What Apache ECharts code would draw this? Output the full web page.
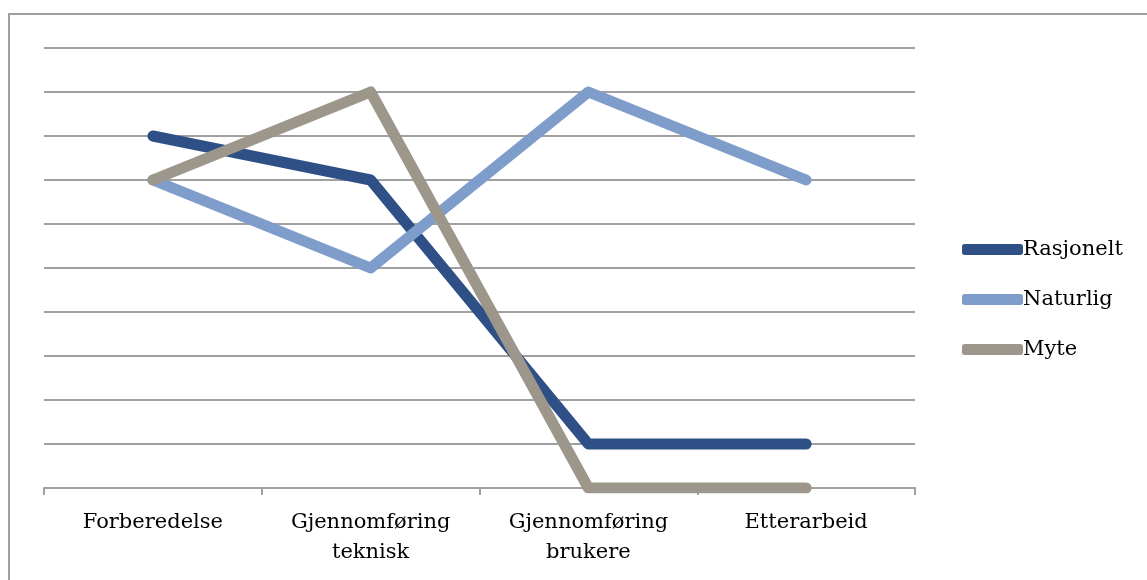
<!DOCTYPE html>
<html><head><meta charset="utf-8">
<script src="https://cdn.jsdelivr.net/npm/echarts@6/dist/echarts.min.js"></script>
<style>html,body{margin:0;padding:0;background:#fff}#c{width:1147px;height:580px}</style>
</head><body><div id="c"></div>
<script>
const categories = ['Forberedelse', 'Gjennomføring\nteknisk', 'Gjennomføring\nbrukere', 'Etterarbeid'];
const rasjonelt = [8, 7, 1, 1];
const naturlig = [7, 5, 9, 7];
const myte = [7, 9, 0, 0];
const seriesNames = ['Rasjonelt', 'Naturlig', 'Myte'];
const colors = ['#2f5086', '#7f9dca', '#9d968b'];
const font = 'DejaVu Serif';

const chart = echarts.init(document.getElementById('c'), null, {renderer: 'canvas'});
const mk = (name, data, color) => ({
  name, type: 'line', data, symbol: 'none', smooth: false,
  lineStyle: {color, width: 11, cap: 'round', join: 'round'},
  itemStyle: {color}, z: 3
});
chart.setOption({
  animation: false,
  backgroundColor: '#fff',
  graphic: [{type: 'rect', shape: {x: 9, y: 14, width: 1150, height: 600},
    style: {fill: 'none', stroke: '#a0a0a0', lineWidth: 2}, z: 0}],
  grid: {left: 44, right: 232, top: 48, bottom: 92},
  legend: {
    orient: 'vertical', left: 957, top: 234, itemWidth: 61, itemHeight: 11, itemGap: 29,
    icon: 'roundRect',
    textStyle: {fontFamily: font, fontSize: 21, color: '#000', padding: [0, 0, 0, -5]},
    data: seriesNames
  },
  xAxis: {
    type: 'category', data: categories, boundaryGap: true,
    axisLine: {lineStyle: {color: '#a0a0a0', width: 2}},
    axisTick: {show: true, length: 7, lineStyle: {color: '#a0a0a0', width: 2}},
    axisLabel: {fontFamily: font, fontSize: 21, color: '#000', margin: 20, lineHeight: 30}
  },
  yAxis: {
    type: 'value', min: 0, max: 10, interval: 1,
    axisLine: {show: false}, axisTick: {show: false}, axisLabel: {show: false},
    splitLine: {lineStyle: {color: '#a0a0a0', width: 2}}
  },
  series: [mk(seriesNames[0], rasjonelt, colors[0]), mk(seriesNames[1], naturlig, colors[1]), mk(seriesNames[2], myte, colors[2])]
});
</script></body></html>
